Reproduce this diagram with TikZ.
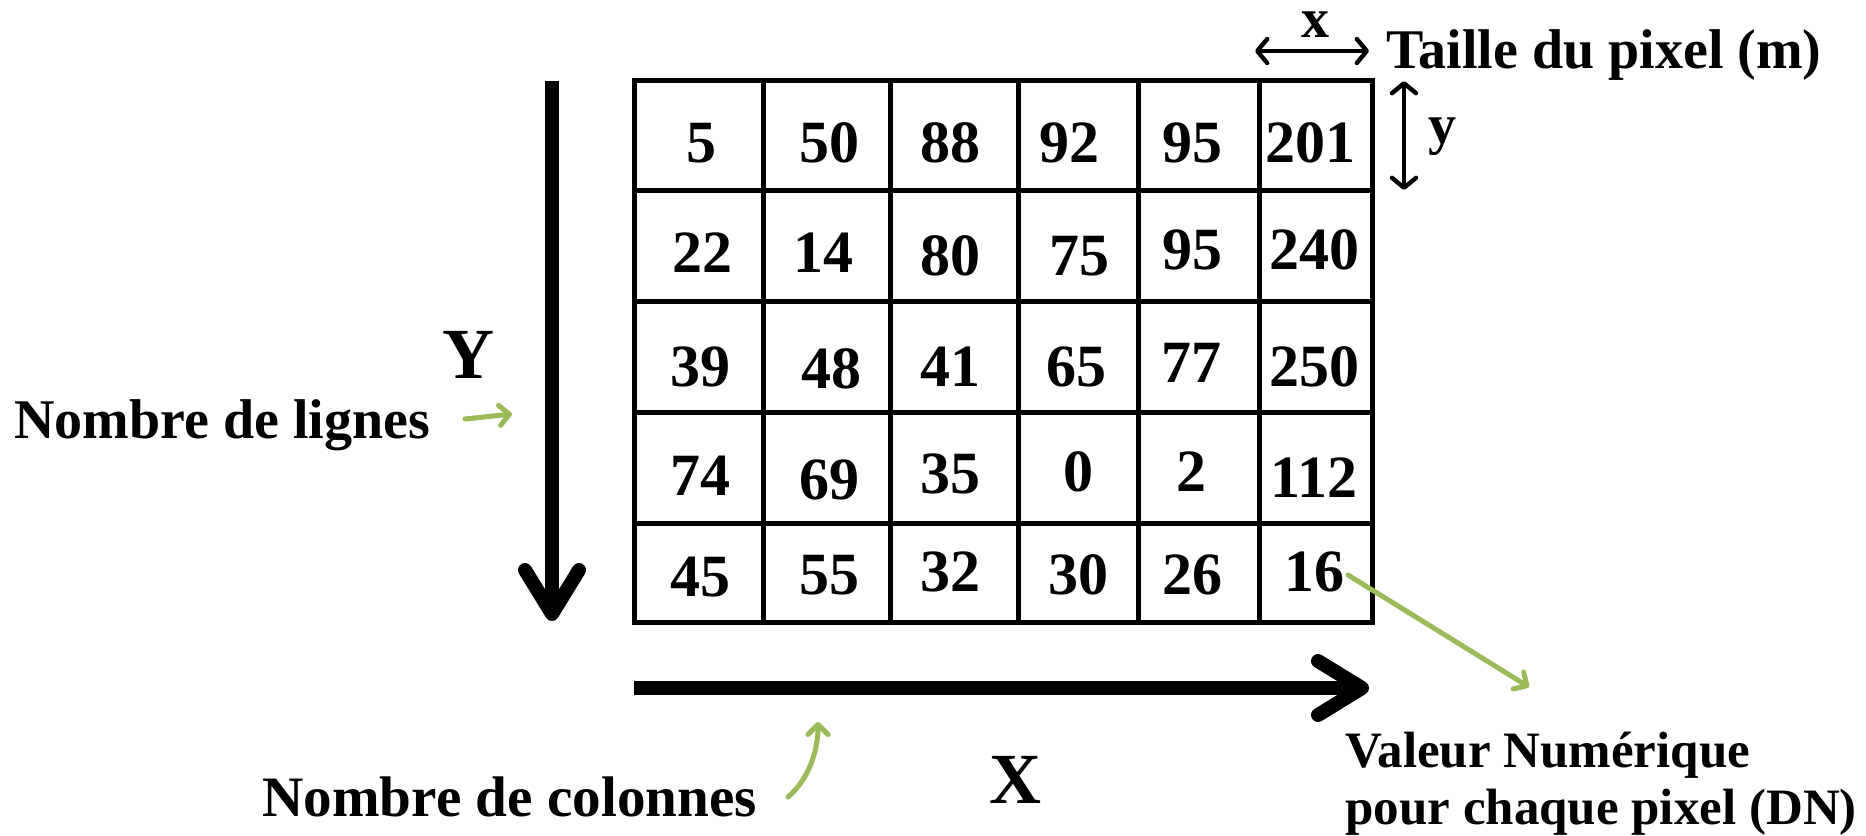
\documentclass[tikz,border=0pt]{standalone}
\usepackage{fontspec}
\setmainfont{Liberation Serif}
\usetikzlibrary{arrows.meta}
\definecolor{olivegreen}{HTML}{9BBB59}
\begin{document}
\begin{tikzpicture}[x=0.5pt,y=-0.5pt,
  num/.style={font=\fontsize{30}{32}\selectfont\bfseries, inner sep=0pt, anchor=center},
  lbl/.style={font=\fontsize{28}{30}\selectfont\bfseries, inner sep=0pt},
  vlbl/.style={font=\fontsize{25.5}{28}\selectfont\bfseries, inner sep=0pt},
  axl/.style={font=\fontsize{36}{40}\selectfont\bfseries, inner sep=0pt, anchor=base},
  gridline/.style={line width=2.5pt, line cap=rect},
  bigarrow/.style={line width=7pt, -{Straight Barb[length=22pt,width=27pt,round]}},
  dimarrow/.style={line width=2.2pt, {Straight Barb[length=5pt,width=12pt,round]}-{Straight Barb[length=5pt,width=12pt,round]}},
  greenarrow/.style={draw=olivegreen, line width=2.5pt, line cap=round, -{Straight Barb[length=5pt,width=10pt,round]}}
]
\useasboundingbox (0,0) rectangle (1866,835);

% grid
\foreach \x in {634,763,890,1018,1138,1259,1372}
  \draw[gridline] (\x,80) -- (\x,622);
\foreach \y in {80,190,301,412,523,622}
  \draw[gridline] (634,\y) -- (1372,\y);

% numbers
\foreach \n/\x/\y/\t in {
  c11/701/143/5, c12/829/143/50, c13/950/143/88, c14/1069/143/92, c15/1192/143/95, c16/1310/143/201,
  c21/702/253/22, c22/823/253/14, c23/950/256/80, c24/1079/256/75, c25/1192/250/95, c26/1314/250/240,
  c31/700/367/39, c32/831/369/48, c33/950/367/41, c34/1076/367/65, c35/1191/363/77, c36/1314/367/250,
  c41/700/476/74, c42/829/480/69, c43/950/474/35, c44/1078/472/0, c45/1191/472/2, c46/1314/478/112,
  c51/700/577/45, c52/829/575/55, c53/950/572/32, c54/1078/575/30, c55/1192/575/26, c56/1314/572/16}
  \node[num] (\n) at (\x,\y) {\t};

% pixel size
\coordinate (xl) at (1255,51);
\coordinate (xr) at (1369,51);
\draw[dimarrow] (xl) -- (xr);
\node[lbl, anchor=base] (xlab) at (1315,37) {x};
\coordinate (yt) at (1404,81);
\coordinate (yb) at (1404,190);
\draw[dimarrow] (yt) -- (yb);
\node[lbl, anchor=base west] (ylab) at (1428,143) {y};
\node[lbl, anchor=base west] (taille) at (1386,68) {Taille du pixel (m)};

% axes
\coordinate (ytop) at (552,81);
\coordinate (ytip) at (552,621);
\draw[bigarrow] (ytop) -- (ytip);
\node[axl] (Ylab) at (468,378) {Y};
\coordinate (xstart) at (634,688);
\coordinate (xtip) at (1369,688);
\draw[bigarrow] (xstart) -- (xtip);
\node[axl] (Xlab) at (1015,803) {X};

% labels
\node[lbl, anchor=base west] (lignes) at (14,438) {Nombre de lignes};
\node[lbl, anchor=base west, font=\fontsize{28.6}{30}\selectfont\bfseries] (colonnes) at (262,816) {Nombre de colonnes};
\node[vlbl, anchor=base west] (val1) at (1345,767) {Valeur Numérique};
\node[vlbl, anchor=base west] (val2) at (1345,824) {pour chaque pixel (DN)};

% green pointers
\coordinate (lg0) at (465,419);
\coordinate (lg1) at (512,414);
\draw[greenarrow] (lg0) -- (lg1);
\coordinate (cg0) at (788,797);
\coordinate (cg1) at (818,722);
\draw[greenarrow] (cg0) .. controls (808,780) and (818,752) .. (cg1);
\coordinate (vg0) at (1348,575);
\coordinate (vg1) at (1529,687);
\draw[greenarrow] (vg0) -- (vg1);
\end{tikzpicture}
\end{document}
